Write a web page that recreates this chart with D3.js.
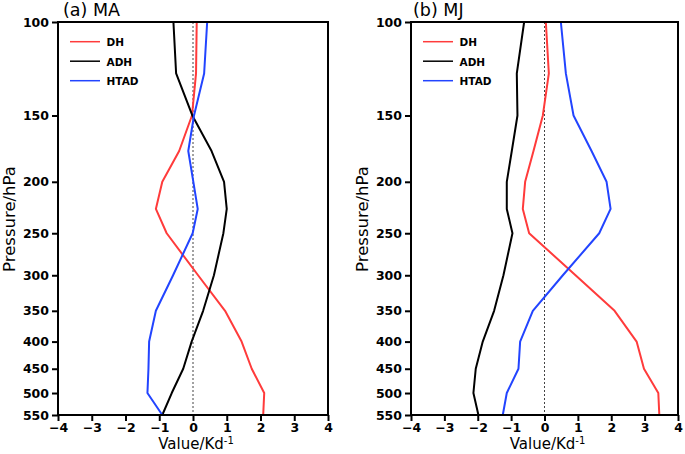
<!DOCTYPE html>
<html><head><meta charset="utf-8">
<script src="https://cdn.jsdelivr.net/npm/d3@7"></script>
<style>body{margin:0;background:#fff}svg{display:block}text{font-family:"DejaVu Sans",Arial,Helvetica,sans-serif}</style>
</head><body>
<script>
const levels = [100,125,150,175,200,225,250,300,350,400,450,500,550];
const yTicks = [100,150,200,250,300,350,400,450,500,550];
const xTicks = [-4,-3,-2,-1,0,1,2,3,4];
const seriesNames = ["DH","ADH","HTAD"];
const seriesColors = ["#ff3b3b","#000000","#2244ff"];
// Panel (a) MA
const maDH   = [0.11,0.09,-0.03,-0.41,-0.91,-1.10,-0.78,0.15,0.95,1.44,1.74,2.11,2.08];
const maADH  = [-0.58,-0.50,-0.02,0.55,0.92,1.00,0.90,0.62,0.30,-0.04,-0.29,-0.63,-0.91];
const maHTAD = [0.42,0.33,0.03,-0.14,0.01,0.14,-0.01,-0.59,-1.10,-1.30,-1.32,-1.35,-0.91];
// Panel (b) MJ
const mjDH   = [0.04,0.13,-0.05,-0.33,-0.58,-0.65,-0.46,0.93,2.10,2.76,2.98,3.41,3.44];
const mjADH  = [-0.61,-0.83,-0.81,-0.98,-1.13,-1.13,-0.96,-1.23,-1.51,-1.85,-2.06,-2.13,-1.98];
const mjHTAD = [0.49,0.64,0.87,1.41,1.86,1.98,1.64,0.55,-0.35,-0.73,-0.78,-1.13,-1.25];

const W=685,H=454;
const svg=d3.select("body").append("svg").attr("width",W).attr("height",H);

const panels=[
  {title:"(a) MA", x0:58, x1:328, tx:63, series:[maDH,maADH,maHTAD]},
  {title:"(b) MJ", x0:411, x1:678, tx:413, series:[mjDH,mjADH,mjHTAD]}
];
const yTop=22,yBot=415;

panels.forEach(p=>{
  const g=svg.append("g");
  const x=d3.scaleLinear().domain([-4,4]).range([p.x0,p.x1]);
  const y=d3.scaleLog().domain([100,550]).range([yTop,yBot]);
  g.append("line").attr("x1",x(0)).attr("x2",x(0)).attr("y1",yTop).attr("y2",yBot)
    .attr("stroke","#444").attr("stroke-width",1).attr("stroke-dasharray","2,2");
  const line=d3.line().x(d=>x(d[0])).y(d=>y(d[1]));
  p.series.forEach((s,i)=>{
    g.append("path").datum(s.map((v,k)=>[v,levels[k]]))
      .attr("d",line).attr("fill","none").attr("stroke",seriesColors[i])
      .attr("stroke-width",2).attr("stroke-linejoin","round");
  });
  g.append("rect").attr("x",p.x0).attr("y",yTop).attr("width",p.x1-p.x0).attr("height",yBot-yTop)
    .attr("fill","none").attr("stroke","#000").attr("stroke-width",2);
  const ya=d3.axisLeft(y).tickValues(yTicks).tickFormat(d3.format("d")).tickSize(6).tickPadding(3);
  const yg=g.append("g").attr("transform",`translate(${p.x0},0)`).call(ya);
  const xa=d3.axisBottom(x).tickValues(xTicks).tickFormat(d=>d<0?"\u2212"+Math.abs(d):d).tickSize(6).tickPadding(2);
  const xg=g.append("g").attr("transform",`translate(0,${yBot})`).call(xa);
  [yg,xg].forEach(a=>{
    a.select(".domain").remove();
    a.selectAll(".tick line").attr("stroke","#000").attr("stroke-width",2);
    a.selectAll(".tick text").attr("fill","#000").style("font-size","12.5px").style("font-weight","bold")
      .style("font-family","'DejaVu Sans',Arial,sans-serif");
  });
  g.append("text").attr("x",p.tx).attr("y",15.5).text(p.title).style("font-size","17.5px");
  g.append("text").attr("transform",`translate(${p.x0-43},219) rotate(-90)`)
    .attr("text-anchor","middle").style("font-size","16.5px").text("Pressure/hPa");
  const xl=g.append("text").attr("x",(p.x0+p.x1)/2+3).attr("y",449).attr("text-anchor","middle").style("font-size","15px");
  xl.append("tspan").text("Value/Kd");
  xl.append("tspan").attr("dy",-5).style("font-size","10px").text("-1");
  seriesNames.forEach((n,i)=>{
    const ly=41.7+i*19.5;
    g.append("line").attr("x1",p.x0+12).attr("x2",p.x0+42).attr("y1",ly).attr("y2",ly)
      .attr("stroke",seriesColors[i]).attr("stroke-width",1.5);
    g.append("text").attr("x",p.x0+48.5).attr("y",ly+4.3).style("font-size","10.5px").style("font-weight","bold").text(n);
  });
});
</script>
</body></html>
